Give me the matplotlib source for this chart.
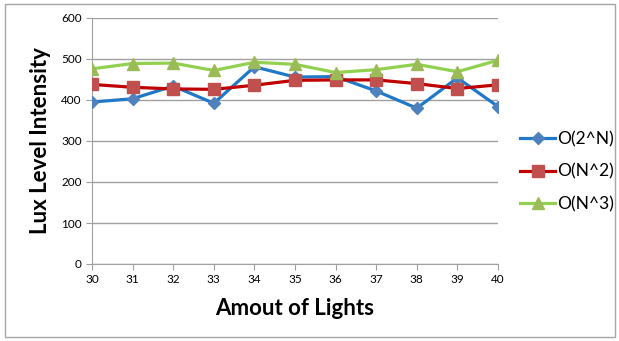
import matplotlib
matplotlib.use('Agg')
import matplotlib.pyplot as plt
from matplotlib.patches import Rectangle

lights = [30, 31, 32, 33, 34, 35, 36, 37, 38, 39, 40]
o_2n = [395, 403, 434, 392, 481, 456, 457, 422, 380, 454, 384]
o_n2 = [438, 431, 427, 426, 436, 448, 449, 449, 440, 428, 437]
o_n3 = [476, 489, 490, 472, 492, 487, 467, 474, 487, 469, 497]

plt.rcParams['font.family'] = ['Lato', 'DejaVu Sans']

fig = plt.figure(figsize=(6.19, 3.41), dpi=100)
ax = fig.add_axes([92 / 619, 1 - 264 / 341, 406 / 619, 246 / 341])

# outer frame of the chart area
fig.patches.append(Rectangle((0.008, 0.012), 0.985, 0.976, transform=fig.transFigure,
                             fill=False, edgecolor='#a6a6a6', linewidth=1))

ax.plot(lights, o_2n, color='#1F78C8', linewidth=2.3, marker='D', markersize=6,
        markerfacecolor='#4F81BD', markeredgecolor='#4F81BD', label='O(2^N)', zorder=3)
ax.plot(lights, o_n2, color='#C00000', linewidth=2.3, marker='s', markersize=8,
        markerfacecolor='#C0504D', markeredgecolor='#C0504D', label='O(N^2)', zorder=3)
ax.plot(lights, o_n3, color='#92D050', linewidth=2.3, marker='^', markersize=8,
        markerfacecolor='#9BBB59', markeredgecolor='#9BBB59', label='O(N^3)', zorder=3)

ax.set_xlim(30, 40)
ax.set_ylim(0, 600)
ax.set_xticks(lights)
ax.set_yticks(range(0, 601, 100))
ax.yaxis.grid(True, color='#a0a0a0', linewidth=1)
ax.set_axisbelow(True)
for s in ['top', 'right']:
    ax.spines[s].set_visible(False)
for s in ['left', 'bottom']:
    ax.spines[s].set_color('#a0a0a0')
ax.tick_params(axis='both', colors='#a0a0a0', labelcolor='black', labelsize=8.5, length=4)
ax.spines['bottom'].set_zorder(1)

ax.set_xlabel('Amout of Lights', fontsize=16, fontweight='bold', labelpad=9)
ax.set_ylabel('Lux Level Intensity', fontsize=16, fontweight='bold', labelpad=7)

ax.legend(loc='center left', bbox_to_anchor=(1.055, 0.375), frameon=False,
          fontsize=12.5, handlelength=2.0, handletextpad=0.1, labelspacing=0.95,
          borderaxespad=0.0, borderpad=0.0)

fig.savefig('out.png', dpi=100)
